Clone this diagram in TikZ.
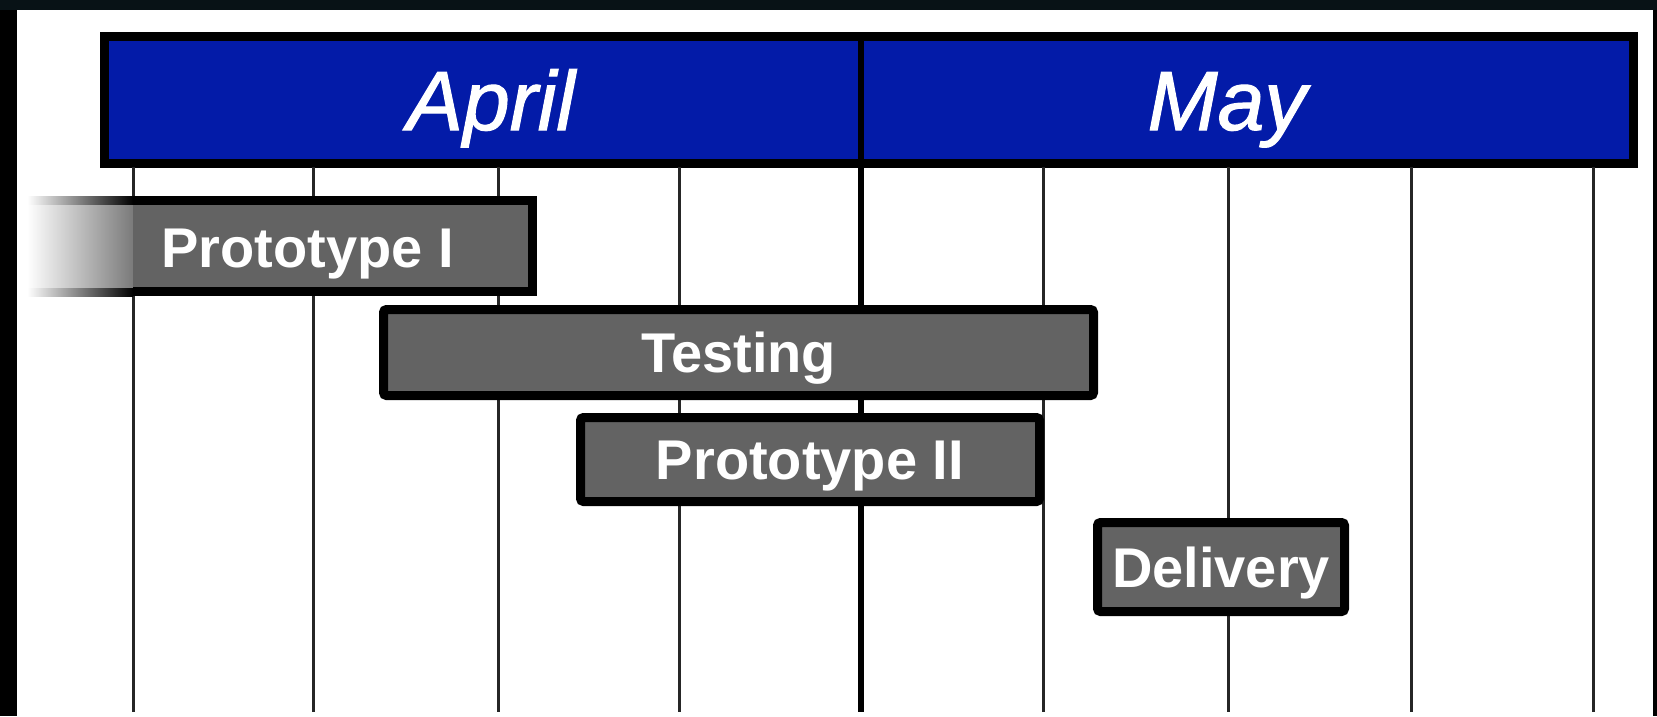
\documentclass[tikz,border=0pt]{standalone}
\usepackage{fontspec}
\setmainfont{Liberation Sans}
\newfontfamily\monthfont[FakeBold=1.3]{Liberation Sans Italic}
\definecolor{monthblue}{RGB}{3,27,168}
\definecolor{taskgray}{RGB}{99,99,99}
\definecolor{framedark}{RGB}{8,18,22}
\tikzset{
  monthlabel/.style={text=white, inner sep=0pt, anchor=base,
    font=\monthfont\fontsize{84}{90}\selectfont},
  taskbar/.style={draw=black, line width=9pt, fill=taskgray, text=white,
    rounded corners=3pt, inner sep=0pt, text height=40pt, text depth=0pt,
    font=\bfseries\fontsize{56}{60}\selectfont},
  gridline/.style={line width=3pt, black!85}
}
\begin{document}
\begin{tikzpicture}[x=1pt,y=-1pt]
      \useasboundingbox (0,0) rectangle (1657,716);
      \fill[black] (0,0) rectangle (1657,716);
      \fill[framedark] (0,0) rectangle (1657,10);
      \fill[white] (17,10) rectangle (1653,716);
      % month header
      \draw[line width=9pt, fill=monthblue] (104.5,36.5) rectangle (1633.5,163.5);
      \node[monthlabel] (april) at (491,130) {April};
      \node[monthlabel] (may) at (1227,130) {May};
      % week lines
      \foreach \wx in {133,313,498,679,1043,1228,1411,1593}
        \draw[gridline] (\wx,167) -- (\wx,712);
      \draw[line width=5.5pt] (861,36) -- (861,712);
      % task bars
      \begin{scope}
        \shade[left color=white, right color=black] (27,196) rectangle (133,205);
        \shade[left color=white, right color=black] (27,287) rectangle (133,296);
        \shade[left color=white, right color=taskgray!85!white] (27,205) rectangle (133,287);
        \fill[taskgray] (133,200.5) rectangle (532.5,291.5);
        \draw[line width=9pt] (133,200.5) -- (532.5,200.5) -- (532.5,291.5) -- (133,291.5);
        \node[taskbar, draw=none, fill=none] (proto1) at (307.5,247) {Prototype I};
        \node[taskbar, minimum width=710pt, minimum height=86pt] (testing) at (738.5,352.5) {Testing};
        \node[taskbar, minimum width=459pt, minimum height=84pt] (proto2) at (810,459.5) {Prototype II};
        \node[taskbar, minimum width=247pt, minimum height=89pt] (delivery) at (1221,567) {Delivery};
      \end{scope}
    \end{tikzpicture}
\end{document}
